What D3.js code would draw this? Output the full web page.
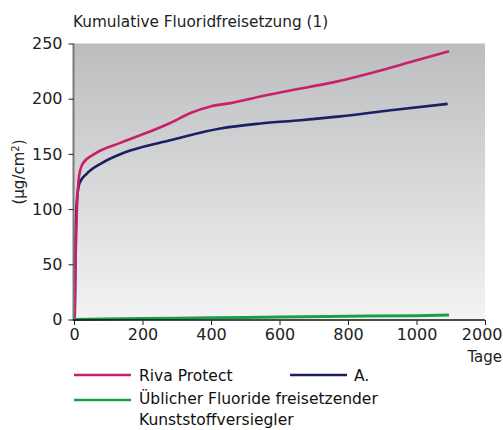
<!DOCTYPE html>
<html><head><meta charset="utf-8">
<script src="https://cdn.jsdelivr.net/npm/d3@7"></script>
<style>
html,body{margin:0;padding:0;background:#fff;}
svg{display:block;font-family:"DejaVu Sans",sans-serif;}
</style></head>
<body><svg id="c" width="503" height="430"></svg>
<script>
// ---- data ----
const rivaDays   = [2, 5, 8, 13, 18, 25, 60, 135, 220, 281, 340, 398, 457, 544, 632, 760, 876, 980, 1095];
const rivaValues = [0, 60, 95, 125, 135, 141, 150, 160, 170, 178, 187, 193, 196, 202, 207.5, 215, 224, 233, 243];
const aDays      = [2, 4, 7, 12, 17, 37, 80, 135, 164, 281, 427, 544, 661, 778, 925, 1091];
const aValues    = [0, 60, 100, 118, 124, 132, 141.5, 149.7, 153, 162.4, 173, 177.5, 180.5, 184, 189.5, 195.3];
const greenDays  = [0, 200, 400, 600, 800, 1000, 1095];
const greenValues= [0, 0.8, 1.5, 2.3, 3, 3.5, 4];
const xTickValues = [0, 200, 400, 600, 800, 1000, 1200];
const xTickLabels = ["0", "200", "400", "600", "800", "1000", "2000"];
const yTickValues = [0, 50, 100, 150, 200, 250];
const seriesNames = ["Riva Protect", "A.", "Üblicher Fluoride freisetzender", "Kunststoffversiegler"];
const titleText = "Kumulative Fluoridfreisetzung (1)";
const xTitle = "Tage";

const colors = {riva:"#c8206a", a:"#1b1f63", green:"#1a9e4c"};

const svg = d3.select("#c");
const x = d3.scaleLinear().domain([0,1200]).range([74,485]);
const y = d3.scaleLinear().domain([0,250]).range([319.5,43.5]);

// gradient background
const defs = svg.append("defs");
const g = defs.append("linearGradient").attr("id","bg").attr("x1",0).attr("y1",0).attr("x2",0).attr("y2",1);
g.append("stop").attr("offset","0%").attr("stop-color","#bcbdbf");
g.append("stop").attr("offset","100%").attr("stop-color","#f3f3f3");
svg.append("rect").attr("x",x(0)).attr("y",y(250)).attr("width",x(1200)-x(0)).attr("height",y(0)-y(250)).attr("fill","url(#bg)");

// title
svg.append("text").attr("x",73).attr("y",27).attr("font-size",15.3).attr("fill","#222").text(titleText);

// lines
const line = d3.line().x(d=>x(d[0])).y(d=>y(d[1])).curve(d3.curveMonotoneX);
const zip = (a,b)=>a.map((v,i)=>[v,b[i]]);
svg.append("path").attr("d",line(zip(aDays,aValues))).attr("fill","none").attr("stroke",colors.a).attr("stroke-width",2.6);
svg.append("path").attr("d",line(zip(rivaDays,rivaValues))).attr("fill","none").attr("stroke",colors.riva).attr("stroke-width",2.6);
svg.append("path").attr("d",line(zip(greenDays,greenValues))).attr("fill","none").attr("stroke",colors.green).attr("stroke-width",3);

// y axis
const yAxis = svg.append("g").attr("transform",`translate(${x(0)-0.5},0)`)
  .call(d3.axisLeft(y).tickValues(yTickValues).tickSize(5).tickPadding(6));
yAxis.select(".domain").attr("stroke","#7a7a7a").attr("stroke-width",2).attr("d",`M0,${y(250)}V${y(0)+1}`);
yAxis.selectAll(".tick line").attr("stroke","#222");
yAxis.selectAll("text").attr("font-size",16).attr("fill","#222").attr("font-family","DejaVu Sans");

// x axis
const xAxis = svg.append("g").attr("transform",`translate(0,${y(0)+0.5})`)
  .call(d3.axisBottom(x).tickValues(xTickValues).tickFormat((d,i)=>xTickLabels[i]).tickSize(5).tickPadding(4));
xAxis.select(".domain").attr("stroke","#111").attr("stroke-width",1.5).attr("d",`M${x(0)-1},0H${x(1200)}`);
xAxis.selectAll(".tick line").attr("stroke","#222");
xAxis.selectAll("text").attr("font-size",16).attr("fill","#222").attr("font-family","DejaVu Sans");
xAxis.selectAll(".tick").filter(d=>d===1200).select("text").attr("text-anchor","end").attr("x",17);

// axis titles
svg.append("text").attr("transform","translate(24,172) rotate(-90)").attr("text-anchor","middle")
  .attr("font-size",15).attr("fill","#222").html("(µg/cm<tspan baseline-shift='super' font-size='10'>2</tspan>)");
svg.append("text").attr("x",502).attr("y",362).attr("text-anchor","end").attr("font-size",15).attr("fill","#222").text(xTitle);

// legend
const leg = [
  {x1:74, x2:131, y:375, c:colors.riva, tx:139, ty:381, t:seriesNames[0]},
  {x1:290, x2:347, y:375, c:colors.a, tx:354, ty:381, t:seriesNames[1]},
  {x1:74, x2:131, y:400, c:colors.green, tx:139, ty:404, t:seriesNames[2]},
];
leg.forEach(l=>{
  svg.append("line").attr("x1",l.x1).attr("x2",l.x2).attr("y1",l.y).attr("y2",l.y).attr("stroke",l.c).attr("stroke-width",2.5);
  svg.append("text").attr("x",l.tx).attr("y",l.ty).attr("font-size",15.5).attr("fill","#111").text(l.t);
});
svg.append("text").attr("x",139).attr("y",425).attr("font-size",15.5).attr("fill","#111").text(seriesNames[3]);
</script></body></html>
